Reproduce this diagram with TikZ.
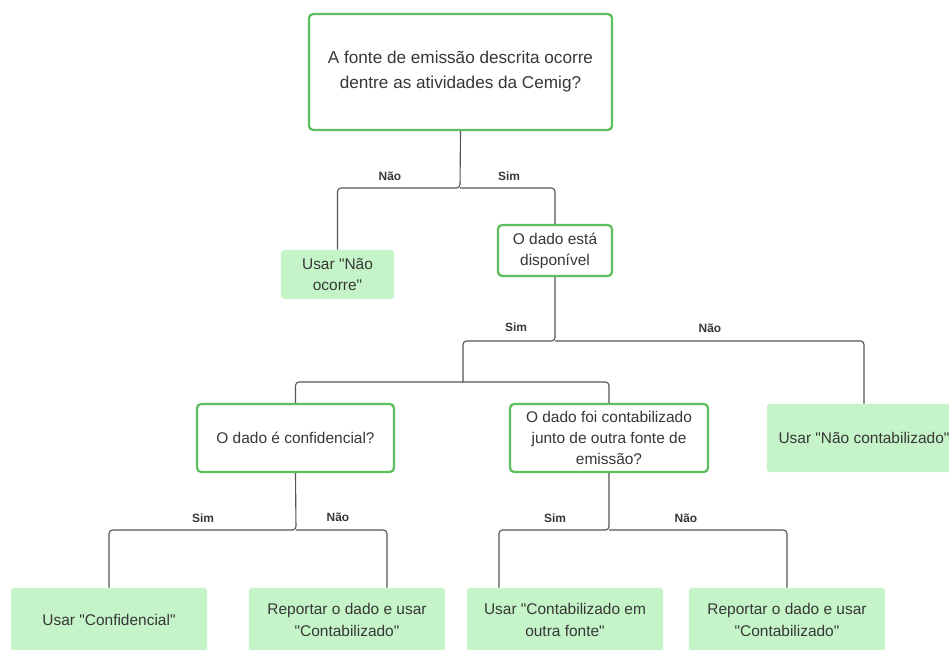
\documentclass[tikz,border=0pt]{standalone}
\usepackage{fontspec}
\setmainfont{Liberation Sans}
\usetikzlibrary{positioning}
\definecolor{askborderc}{RGB}{92,190,92}
\definecolor{answerfillc}{RGB}{196,244,200}
\definecolor{linkc}{RGB}{85,85,85}
\definecolor{textc}{RGB}{55,55,55}
\newcommand{\qq}{\textquotedbl}

\begin{document}
\begin{tikzpicture}[x=0.025cm,y=-0.025cm,
        question/.style={draw=askborderc,line width=1.6pt,fill=white,rounded corners=3pt,
          align=center,text=textc,font=\fontsize{11}{15}\selectfont,inner sep=0pt},
        answer/.style={fill=answerfillc,rounded corners=2pt,
          align=center,text=textc,font=\fontsize{11}{15}\selectfont,inner sep=0pt},
        link/.style={draw=linkc,line width=0.8pt,rounded corners=2.5pt},
        choice/.style={text=textc,font=\fontsize{8.5}{10}\selectfont\bfseries,inner sep=0pt}]
        \useasboundingbox (0,0) rectangle (949,650);
        \clip (0,0) rectangle (949,650);

        % questions
        \node[question,minimum width=7.575cm,minimum height=2.9cm,font=\fontsize{12.2}{17.7}\selectfont] (fonte) at (460.5,72)
          {A fonte de emissão descrita ocorre\\dentre as atividades da Cemig?};
        \node[question,minimum width=2.85cm,minimum height=1.275cm] (dispo) at (555,250.5)
          {O dado está\\disponível};
        \node[question,minimum width=4.925cm,minimum height=1.7cm] (conf) at (295.5,438)
          {O dado é confidencial?};
        \node[question,minimum width=4.95cm,minimum height=1.7cm] (junto) at (609,438)
          {O dado foi contabilizado\\junto de outra fonte de\\emissão?};

        % answers
        \node[answer,minimum width=2.825cm,minimum height=1.225cm] (naoocorre) at (337.5,274.5)
          {Usar \qq Não\\ocorre\qq};
        \node[answer,minimum width=4.85cm,minimum height=1.7cm] (naocont) at (864,438)
          {Usar \qq Não contabilizado\qq};
        \node[answer,minimum width=4.9cm,minimum height=1.6cm] (usaconf) at (109,620)
          {Usar \qq Confidencial\qq};
        \node[answer,minimum width=4.9cm,minimum height=1.6cm] (reporta) at (347,620)
          {Reportar o dado e usar\\\qq Contabilizado\qq};
        \node[answer,minimum width=4.9cm,minimum height=1.6cm] (outra) at (565,620)
          {Usar \qq Contabilizado em\\outra fonte\qq};
        \node[answer,minimum width=4.9cm,minimum height=1.6cm] (reportb) at (787,620)
          {Reportar o dado e usar\\\qq Contabilizado\qq};

        % split points
        \coordinate (s1) at (460,188);
        \coordinate (s2) at (555,341);
        \coordinate (s3) at (463,382);
        \coordinate (s4) at (296,530);
        \coordinate (s5) at (609,530);

        \draw[link] (fonte.south) -- (s1) -| (naoocorre.north);
        \draw[link] (s1) -| (dispo.north);
        \draw[link] (dispo.south) -- (s2) -| (s3);
        \draw[link] (s2) -| (naocont.north);
        \draw[link] (s3) -| (conf.north);
        \draw[link] (s3) -| (junto.north);
        \draw[link] (conf.south) -- (s4) -| (usaconf.north);
        \draw[link] (s4) -| ([xshift=1cm]reporta.north);
        \draw[link] (junto.south) -- (s5) -| ([xshift=-1.65cm]outra.north);
        \draw[link] (s5) -| (reportb.north);

        % labels
        \node[choice] (l1) at (390,176) {Não};
        \node[choice] (l2) at (509,176) {Sim};
        \node[choice] (l3) at (516,327) {Sim};
        \node[choice] (l4) at (710,328) {Não};
        \node[choice] (l5) at (203,518) {Sim};
        \node[choice] (l6) at (338,517) {Não};
        \node[choice] (l7) at (555,518) {Sim};
        \node[choice] (l8) at (686,518) {Não};

\end{tikzpicture}
\end{document}
